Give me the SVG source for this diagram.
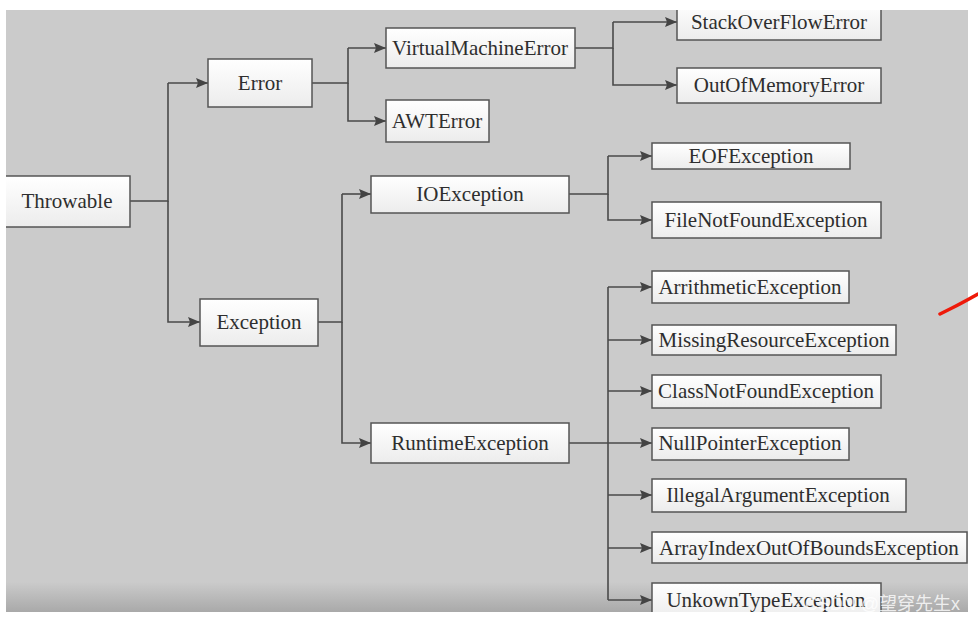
<svg xmlns="http://www.w3.org/2000/svg" width="978" height="622" viewBox="0 0 978 622">
<defs>
<linearGradient id="box" x1="0" y1="0" x2="0" y2="1">
<stop offset="0" stop-color="#ffffff"/>
<stop offset="1" stop-color="#ececec"/>
</linearGradient>
<linearGradient id="bg" x1="0" y1="0" x2="0" y2="1">
<stop offset="0" stop-color="#cbcbcb"/>
<stop offset="0.95" stop-color="#cbcbcb"/>
<stop offset="1" stop-color="#a9a9a9"/>
</linearGradient>
<clipPath id="area"><rect x="6" y="10" width="962" height="602"/></clipPath>
<marker id="arr" viewBox="0 0 12 10" refX="12" refY="5" markerWidth="12" markerHeight="10" markerUnits="userSpaceOnUse" orient="auto">
<path d="M0,0 L12,5 L0,10 L2,5 Z" fill="#444"/>
</marker>
<style>
.n rect{fill:url(#box);stroke:#555;stroke-width:1.5}
.n text{font-family:"Liberation Serif","Times New Roman",serif;font-size:21px;fill:#2e2e2e;text-anchor:middle;dominant-baseline:central}
.c path{fill:none;stroke:#4a4a4a;stroke-width:1.6}
.c path.a{marker-end:url(#arr)}
</style>
</defs>
<rect width="978" height="622" fill="#ffffff"/>
<rect x="6" y="10" width="962" height="602" fill="url(#bg)"/>
<g clip-path="url(#area)">
<g class="c" id="connectors">
<path d="M130,201 H168 V83"/>
<path class="a" d="M168,83 H208"/>
<path class="a" d="M168,201 V322 H200"/>
<path d="M312,83 H348 V48"/>
<path class="a" d="M348,48 H386"/>
<path class="a" d="M348,83 V121 H386"/>
<path d="M318,322 H342 V194"/>
<path class="a" d="M342,194 H371"/>
<path class="a" d="M342,322 V443 H371"/>
<path d="M575,48 H613 V22"/>
<path class="a" d="M613,22 H677"/>
<path class="a" d="M613,48 V85 H677"/>
<path d="M569,194 H608 V156"/>
<path class="a" d="M608,156 H652"/>
<path class="a" d="M608,194 V220 H652"/>
<path d="M569,443 H608"/>
<path d="M608,287 V600"/>
<path class="a" d="M608,287 H652"/>
<path class="a" d="M608,340 H652"/>
<path class="a" d="M608,391 H652"/>
<path class="a" d="M608,443 H652"/>
<path class="a" d="M608,495 H652"/>
<path class="a" d="M608,548 H652"/>
<path class="a" d="M608,600 H652"/>
</g>
<g class="n" id="throwable"><rect x="4" y="176" width="126" height="51"/><text x="67" y="201">Throwable</text></g>
<g class="n" id="error"><rect x="208" y="59" width="104" height="48"/><text x="260" y="83">Error</text></g>
<g class="n" id="exception"><rect x="200" y="299" width="118" height="47"/><text x="259" y="322">Exception</text></g>
<g class="n" id="virtualmachineerror"><rect x="386" y="28" width="189" height="40"/><text x="480" y="48">VirtualMachineError</text></g>
<g class="n" id="awterror"><rect x="386" y="100" width="103" height="42"/><text x="437" y="121">AWTError</text></g>
<g class="n" id="ioexception"><rect x="371" y="176" width="198" height="37"/><text x="470" y="194">IOException</text></g>
<g class="n" id="runtimeexception"><rect x="371" y="423" width="198" height="40"/><text x="470" y="443">RuntimeException</text></g>
<g class="n" id="stackoverflowerror"><rect x="677" y="2" width="204" height="38"/><text x="779" y="22">StackOverFlowError</text></g>
<g class="n" id="outofmemoryerror"><rect x="677" y="68" width="204" height="35"/><text x="779" y="85">OutOfMemoryError</text></g>
<g class="n" id="eofexception"><rect x="652" y="143" width="198" height="26"/><text x="751" y="156">EOFException</text></g>
<g class="n" id="filenotfoundexception"><rect x="652" y="202" width="229" height="36"/><text x="766" y="220">FileNotFoundException</text></g>
<g class="n" id="arithmeticexception"><rect x="652" y="271" width="197" height="32"/><text x="750" y="287">ArrithmeticException</text></g>
<g class="n" id="missingresourceexception"><rect x="652" y="325" width="244" height="30"/><text x="774" y="340">MissingResourceException</text></g>
<g class="n" id="classnotfoundexception"><rect x="652" y="375" width="229" height="33"/><text x="766" y="391">ClassNotFoundException</text></g>
<g class="n" id="nullpointerexception"><rect x="652" y="428" width="197" height="32"/><text x="750" y="443">NullPointerException</text></g>
<g class="n" id="illegalargumentexception"><rect x="652" y="479" width="254" height="33"/><text x="778" y="495">IllegalArgumentException</text></g>
<g class="n" id="arrayindexoutofboundsexception"><rect x="652" y="532" width="315" height="31"/><text x="809" y="548">ArrayIndexOutOfBoundsException</text></g>
<g class="n" id="unkowntypeexception"><rect x="652" y="583" width="229" height="36"/><text x="766" y="600">UnkownTypeException</text></g>
</g>
<path d="M940,314 L952,308 Q962,303 978,294" fill="none" stroke="#ee1a0a" stroke-width="3.5" stroke-linecap="round"/>
<text x="960" y="604" text-anchor="end" font-family="'Liberation Sans','Noto Sans CJK SC',sans-serif" font-size="18" fill="#ffffff" fill-opacity="0.8" dominant-baseline="central">CSDN @望穿先生x</text>
</svg>
